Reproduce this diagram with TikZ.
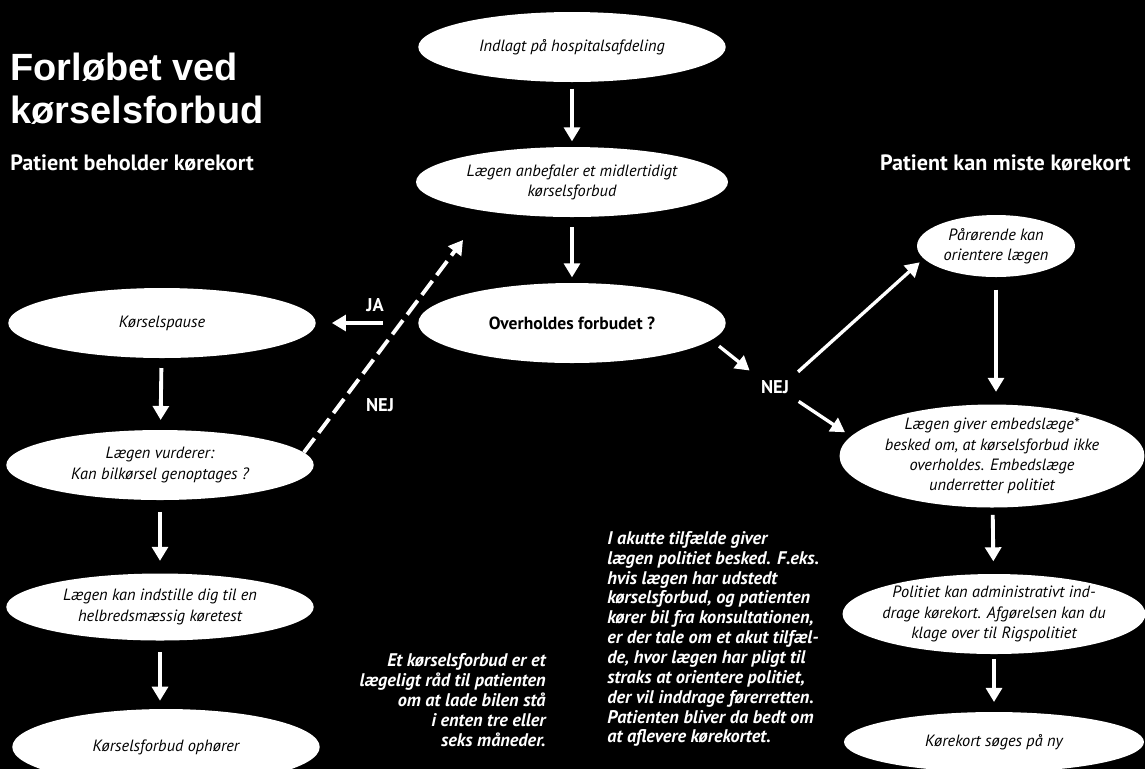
\documentclass[tikz,border=0pt]{standalone}
\usepackage{fontspec}
\setmainfont{PT Sans}
\newfontfamily\titelfont{Liberation Sans}
\usetikzlibrary{shapes,arrows.meta}

\tikzset{
  trin/.style={ellipse, fill=white, text=black, inner xsep=-12pt, inner ysep=-4pt,
    minimum width=6.15cm, minimum height=1.4cm, align=center,
    font=\fontsize{9.3}{11.5}\selectfont\itshape},
  pil/.style={white, line width=2.2pt, -{Triangle[width=9pt,length=8pt]},
    shorten <=5.5pt, shorten >=5.5pt},
  svar/.style={text=white, inner sep=2pt, font=\fontsize{10.5}{12}\selectfont\bfseries},
  rubrik/.style={text=white, inner sep=0pt, font=\fontsize{12.6}{15}\selectfont\bfseries},
  fakta/.style={text=white, inner sep=0pt, font=\fontsize{10.4}{11.3}\selectfont\bfseries\itshape},
}

\begin{document}
\begin{tikzpicture}[x=0.02cm, y=-0.02cm]
  \fill[black] (0,0) rectangle (1145,769);
  \useasboundingbox (0,0) rectangle (1145,769);

  \node[text=white, anchor=north west, inner sep=0pt, align=left,
    font=\titelfont\bfseries\fontsize{21.6}{24.4}\selectfont] (titel) at (10,53)
    {Forløbet ved\\kørselsforbud};
  \node[rubrik, anchor=base west] (beholder) at (10,170) {Patient beholder kørekort};
  \node[rubrik, anchor=base east] (miste) at (1131,170) {Patient kan miste kørekort};

  \node[trin] (hosp) at (572,47) {Indlagt på hospitalsafdeling};
  \node[trin, minimum width=6.24cm] (anbef) at (572,182) {Lægen anbefaler et midlertidigt\\kørselsforbud};
  \node[trin, minimum height=1.6cm, font=\fontsize{10}{12}\selectfont\bfseries] (overh) at (572,323) {Overholdes forbudet ?};

  \node[trin] (pause) at (162,323) {Kørselspause};
  \node[trin] (vurder) at (160,465) {Lægen vurderer:\\Kan bilkørsel genoptages ?};
  \node[trin, minimum height=1.34cm] (indstil) at (160,607) {Lægen kan indstille dig til en\\helbredsmæssig køretest};
  \node[trin, minimum height=1.52cm] (ophor) at (166,747) {Kørselsforbud ophører};

  \node[trin, minimum width=3.16cm, minimum height=1.24cm, inner xsep=0pt] (paaror) at (996,246) {Pårørende kan\\orientere lægen};
  \node[trin, minimum width=6.1cm, minimum height=2.06cm] (embed) at (992,456)
    {Lægen giver embedslæge*\\besked om, at kørselsforbud ikke\\overholdes. Embedslæge\\underretter politiet};
  \node[trin, minimum width=6.06cm, minimum height=1.6cm] (politi) at (994,614)
    {Politiet kan administrativt ind-\\drage kørekort. Afgørelsen kan du\\klage over til Rigspolitiet};
  \node[trin, minimum width=6cm, minimum height=1.2cm] (ny) at (994,742) {Kørekort søges på ny};

  \node[svar] (ja) at (375,305) {JA};
  \node[svar] (nejV) at (380,405) {NEJ};
  \node[svar] (nejH) at (775,387) {NEJ};
  \coordinate (nejMaal) at (463,240);

  \node[fakta, anchor=south east, align=right] (raad) at (546,747)
    {Et kørselsforbud er et\\lægeligt råd til patienten\\om at lade bilen stå\\i enten tre eller\\seks måneder.};
  \node[fakta, anchor=south west, align=left] (akut) at (607,747)
    {I akutte tilfælde giver\\lægen politiet besked. F.eks.\\hvis lægen har udstedt\\kørselsforbud, og patienten\\kører bil fra konsultationen,\\er der tale om et akut tilfæl-\\de, hvor lægen har pligt til\\straks at orientere politiet,\\der vil inddrage førerretten.\\Patienten bliver da bedt om\\at aflevere kørekortet.};

  \draw[pil, shorten <=3.5pt, shorten >=3pt] (hosp) -- (anbef);
  \draw[pil, shorten <=5.5pt, shorten >=3pt] (anbef) -- (overh);
  \draw[pil, shorten <=20pt, shorten >=9pt] (overh.west) -- (pause.east);
  \draw[pil] (pause) -- (vurder);
  \draw[pil, shorten <=6.5pt, shorten >=7pt] (vurder) -- (indstil);
  \draw[pil, shorten <=6.5pt, shorten >=4.5pt] (indstil.south) -- (indstil.south |- ophor.north);
  \draw[pil, dash pattern=on 10pt off 4pt, shorten <=0pt, shorten >=0pt] (vurder.5) -- (nejMaal);

  \draw[pil, line width=1.9pt] (overh.-7) -- (nejH.north west);
  \draw[pil, line width=1.9pt, shorten <=4pt, shorten >=3pt] (nejH.north east) -- (paaror.190);
  \draw[pil, line width=1.9pt, shorten <=4pt, shorten >=4pt] (nejH.south east) -- (embed.172);
  \draw[pil, shorten <=7pt, shorten >=7pt] (paaror) -- (paaror |- embed.north);
  \draw[pil, shorten <=4pt, shorten >=7pt] (embed) -- (politi);
  \draw[pil, shorten <=2.5pt, shorten >=5.5pt] (politi) -- (ny);
\end{tikzpicture}
\end{document}
